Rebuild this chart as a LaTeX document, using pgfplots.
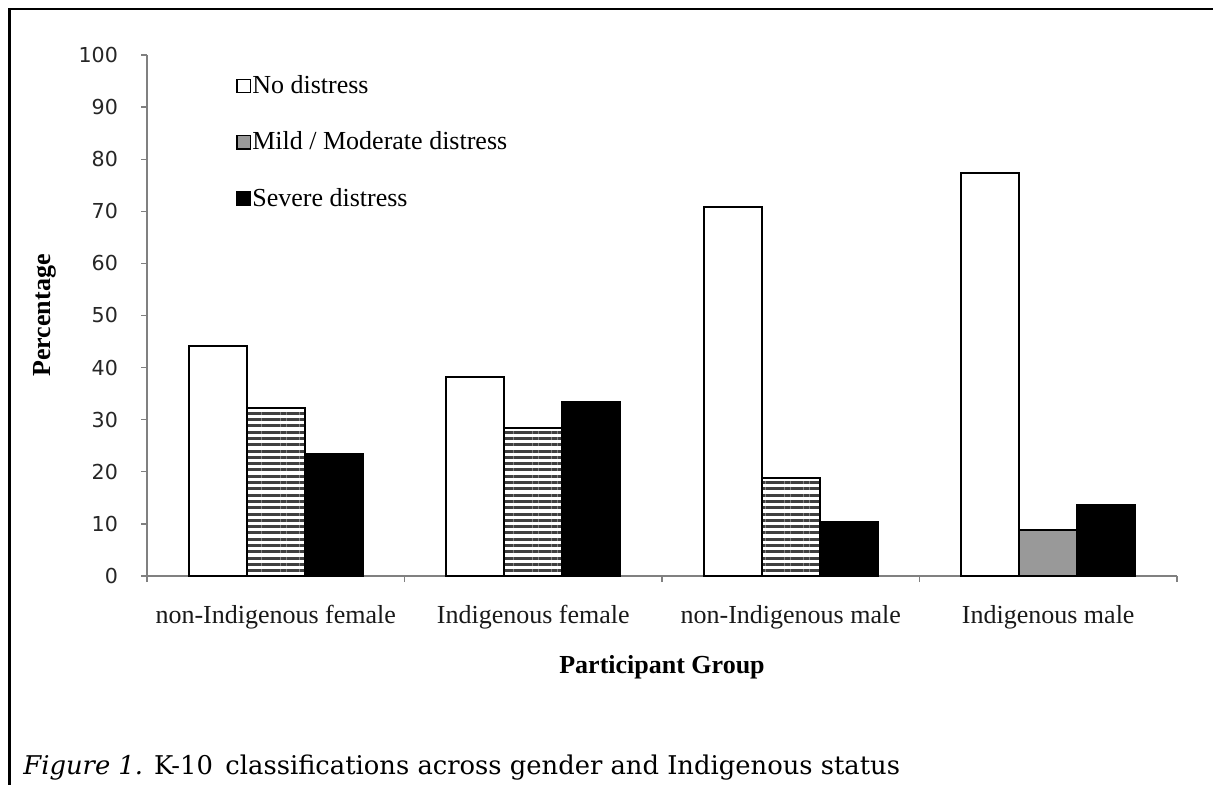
\documentclass[border=0pt]{standalone}
\usepackage{fontspec}
\setmainfont{Liberation Serif}
\newfontfamily\tickfont{DejaVu Sans}
\newfontfamily\capfont{DejaVu Serif}
\usepackage{pgfplots}
\pgfplotsset{compat=1.18}
\usetikzlibrary{patterns.meta}

\begin{document}
\begin{tikzpicture}[x=1pt,y=1pt]
\useasboundingbox (0pt,0pt) rectangle (606.5pt,-392.5pt);
\draw[line width=1.3pt] (4.6pt,-420pt) -- (4.6pt,-4.6pt) -- (640pt,-4.6pt);
\begin{axis}[
  at={(73.5pt,-288pt)}, anchor=south west,
  scale only axis, width=515pt, height=260.5pt,
  xmin=-0.5, xmax=3.5, ymin=0, ymax=100,
  axis x line=bottom, axis y line=left,
  axis line style={draw=black!50, line width=0.6pt, -},
  tick align=outside,
  xtick={0,1,2,3},
  xticklabels={non-Indigenous female, Indigenous female, non-Indigenous male, Indigenous male},
  major x tick style={draw=none},
  minor xtick={-0.5,0.5,1.5,2.5,3.5},
  minor tick length=3pt,
  major tick length=3pt,
  every tick/.style={draw=black!50, line width=0.6pt},
  xticklabel style={font=\fontsize{13}{15}\selectfont, text=black!90, yshift=-8pt},
  ytick={0,10,...,100},
  yticklabel style={font=\tickfont\fontsize{10.3}{12}\selectfont, text=black!85, xshift=-8pt},
  /pgf/number format/assume math mode=true,
  xlabel={Participant Group},
  ylabel={Percentage},
  xlabel style={font=\bfseries\fontsize{13}{15}\selectfont, at={(axis description cs:0.5,-0.1747)}, anchor=center},
  ylabel style={font=\bfseries\fontsize{13}{15}\selectfont, at={(axis description cs:-0.099,0.5)}, anchor=center},
  legend style={at={(axis description cs:0.0805,0.972)}, anchor=north west, draw=none, fill=none,
    font=\fontsize{13}{15}\selectfont, row sep=16pt, nodes={inner sep=0.8pt}},
  legend cell align=left,
  clip=false,
]
\addplot[ybar, bar width=29pt, bar shift=-29pt, draw=black, line width=1pt, fill=white,
  legend image code/.code={\draw[black, line width=0.6pt, fill=white] (0pt,-3.3pt) rectangle (6.6pt,3.3pt);}]
  coordinates {(0,44.2) (1,38.2) (2,70.9) (3,77.4)};
\addlegendentry{No distress}
\addplot[ybar, bar width=29pt, bar shift=0pt, draw=black, line width=1pt, fill=white,
  pattern={Lines[angle=0,distance=3.15pt,line width=1.5pt]}, pattern color=black!75, forget plot]
  coordinates {(0,32.3) (1,28.4) (2,18.8)};
\addplot[ybar, bar width=29pt, bar shift=0pt, draw=black, line width=1pt, fill=black!40,
  legend image code/.code={\draw[black, line width=0.6pt, fill=black!40] (0pt,-3.3pt) rectangle (6.6pt,3.3pt);}]
  coordinates {(3,8.9)};
\addlegendentry{Mild / Moderate distress}
\addplot[ybar, bar width=29pt, bar shift=29pt, draw=black, line width=1pt, fill=black,
  legend image code/.code={\draw[black, line width=0.6pt, fill=black] (0pt,-3.3pt) rectangle (6.6pt,3.3pt);}]
  coordinates {(0,23.5) (1,33.4) (2,10.3) (3,13.7)};
\addlegendentry{Severe distress}
\end{axis}
\node[anchor=base west, font=\capfont\fontsize{12.9}{15}\selectfont, inner sep=0pt] at (11.5pt,-387pt)
  {\textit{Figure 1.} K-10\, classifications across gender and Indigenous status};
\end{tikzpicture}
\end{document}
